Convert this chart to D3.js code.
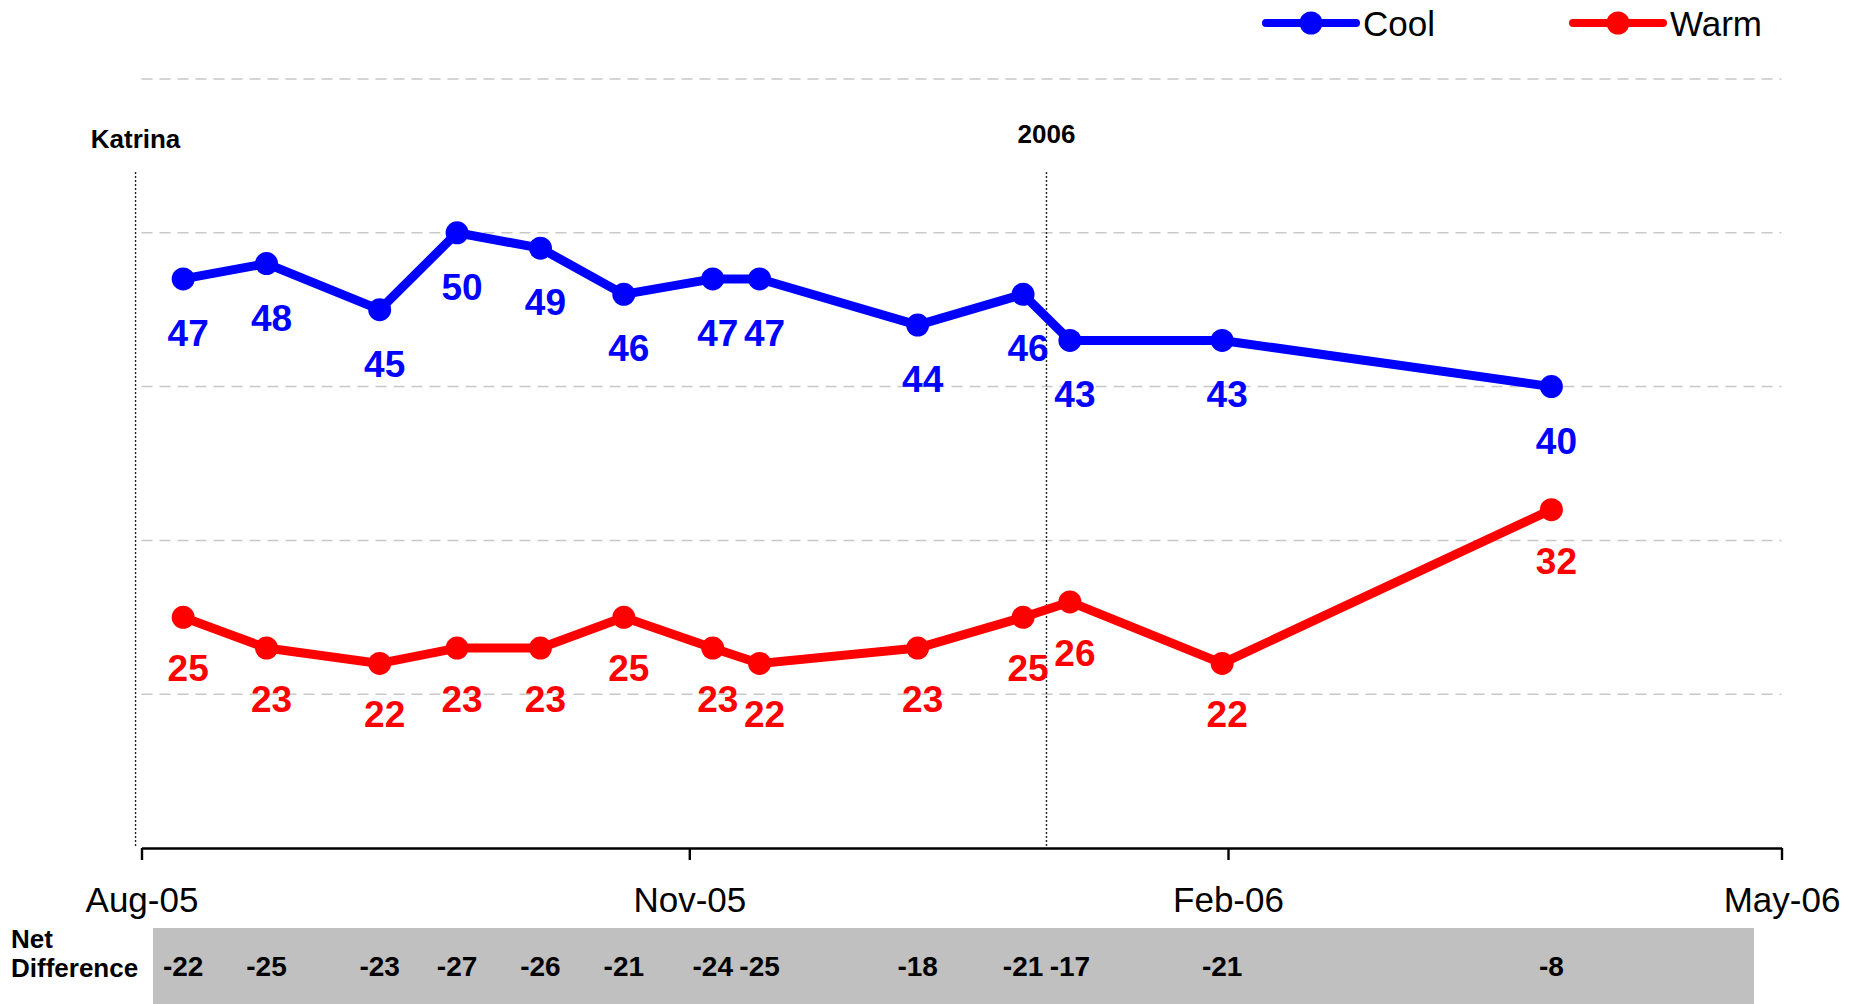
<!DOCTYPE html>
<html>
<head>
<meta charset="utf-8">
<script src="https://cdn.jsdelivr.net/npm/d3@7"></script>
<style>
  html, body { margin: 0; padding: 0; background: #fff; }
  svg { display: block; font-family: "Liberation Sans", Arial, sans-serif; }
</style>
</head>
<body>
<svg id="chart" width="1862" height="1004"></svg>
<script>
// ---- data ----
const surveyDates = ["2005-08-08","2005-08-22","2005-09-10","2005-09-23","2005-10-07","2005-10-21","2005-11-05","2005-11-13","2005-12-10","2005-12-28","2006-01-05","2006-01-31","2006-03-25"];
const coolValues = [47,48,45,50,49,46,47,47,44,46,43,43,40];
const warmValues = [25,23,22,23,23,25,23,22,23,25,26,22,32];
const netDifference = [-22,-25,-23,-27,-26,-21,-24,-25,-18,-21,-17,-21,-8];
const tickDates = ["2005-08-01","2005-11-01","2006-02-01","2006-05-01"];
const gridValues = [20,30,40,50,60];
const eventLabels = ["Katrina","2006"];
const eventDates = ["2005-07-31","2006-01-01"];
const seriesNames = ["Cool","Warm"];

// ---- setup ----
const parse = d3.timeParse("%Y-%m-%d");
const svg = d3.select("#chart");
const font = '"Liberation Sans", Arial, sans-serif';
const colors = {Cool: "#0000FF", Warm: "#FF0000"};

const x = d3.scaleTime()
  .domain(tickDates.map(parse))
  .range([141.5, 689.3, 1228, 1781.5]);
const y = d3.scaleLinear().domain([10, 60]).range([848, 79]);

const xLeft = x.range()[0], xRight = x.range()[x.range().length - 1];

// gridlines
svg.append("g").selectAll("line").data(gridValues).join("line")
  .attr("x1", xLeft).attr("x2", xRight)
  .attr("y1", d => y(d)).attr("y2", d => y(d))
  .attr("stroke", "#c8c8c8").attr("stroke-width", 1.5)
  .attr("stroke-dasharray", "11,7");

// event vertical dotted lines
const events = eventLabels.map((l, i) => ({label: l, date: parse(eventDates[i])}));
svg.append("g").selectAll("line").data(events).join("line")
  .attr("x1", d => x(d.date)).attr("x2", d => x(d.date))
  .attr("y1", 172).attr("y2", y(10))
  .attr("stroke", "#222").attr("stroke-width", 1.4)
  .attr("stroke-dasharray", "2,2");
svg.append("g").selectAll("text").data(events).join("text")
  .attr("x", d => x(d.date))
  .attr("y", (d, i) => i === 0 ? 148 : 143)
  .attr("text-anchor", "middle")
  .attr("font-family", font).attr("font-weight", "bold").attr("font-size", 26)
  .attr("fill", "#000")
  .text(d => d.label);

// x axis
const axis = d3.axisBottom(x)
  .tickValues(tickDates.map(parse))
  .tickFormat(d3.timeFormat("%b-%y"))
  .tickSize(12).tickSizeOuter(0);
const gAxis = svg.append("g").attr("transform", `translate(0,${y(10)})`).call(axis);
gAxis.select(".domain").attr("stroke", "#000").attr("stroke-width", 2.6);
gAxis.selectAll(".tick line").attr("stroke", "#000").attr("stroke-width", 2.4);
gAxis.selectAll(".tick text")
  .attr("y", 63.5).attr("dy", null)
  .attr("font-family", font).attr("font-size", 35).attr("fill", "#000");

// series
const rows = surveyDates.map((d, i) => ({date: parse(d), Cool: coolValues[i], Warm: warmValues[i], net: netDifference[i]}));
const line = key => d3.line().x(d => x(d.date)).y(d => y(d[key]));

seriesNames.forEach(key => {
  const g = svg.append("g");
  g.append("path").datum(rows)
    .attr("d", line(key))
    .attr("fill", "none").attr("stroke", colors[key])
    .attr("stroke-width", 9).attr("stroke-linejoin", "round");
  g.selectAll("circle").data(rows).join("circle")
    .attr("cx", d => x(d.date)).attr("cy", d => y(d[key]))
    .attr("r", 11.5).attr("fill", colors[key]);
  g.selectAll("text").data(rows).join("text")
    .attr("x", d => x(d.date) + 5)
    .attr("y", d => y(d[key]) + (key === "Cool" ? 67 : 64))
    .attr("text-anchor", "middle")
    .attr("font-family", font).attr("font-weight", "bold").attr("font-size", 37)
    .attr("fill", colors[key])
    .text(d => d[key]);
});

// net difference band
svg.append("rect")
  .attr("x", 153).attr("y", 928).attr("width", 1754 - 153).attr("height", 1004 - 928)
  .attr("fill", "#c0c0c0");
const ndLabel = svg.append("text")
  .attr("font-family", font).attr("font-weight", "bold").attr("font-size", 26).attr("fill", "#000");
ndLabel.append("tspan").attr("x", 11).attr("y", 948).text("Net");
ndLabel.append("tspan").attr("x", 11).attr("y", 977).text("Difference");
svg.append("g").selectAll("text").data(rows).join("text")
  .attr("x", d => x(d.date))
  .attr("y", 976)
  .attr("text-anchor", "middle")
  .attr("font-family", font).attr("font-weight", "bold").attr("font-size", 28)
  .attr("fill", "#000")
  .text(d => d.net);

// legend
const legendX = [1266, 1573];
const legend = svg.append("g").selectAll("g").data(seriesNames).join("g")
  .attr("transform", (d, i) => `translate(${legendX[i]},23)`);
legend.append("line")
  .attr("x1", 0).attr("x2", 90).attr("y1", 0).attr("y2", 0)
  .attr("stroke", d => colors[d]).attr("stroke-width", 8).attr("stroke-linecap", "round");
legend.append("circle").attr("cx", 45).attr("cy", 0).attr("r", 11.5).attr("fill", d => colors[d]);
legend.append("text")
  .attr("x", 97).attr("y", 13)
  .attr("font-family", font).attr("font-size", 35).attr("fill", "#000")
  .text(d => d);
</script>
</body>
</html>
